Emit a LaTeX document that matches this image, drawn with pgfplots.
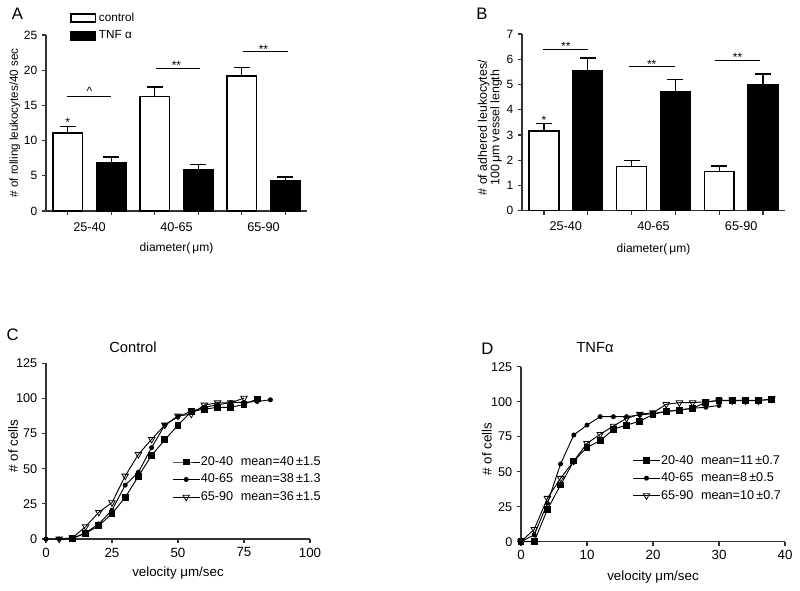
\documentclass[border=0pt]{standalone}
\usepackage{fontspec}
\setmainfont{Liberation Sans}
\usepackage{pgfplots}
\pgfplotsset{compat=1.18}
\newcommand{\fs}[1]{\fontsize{#1}{#1}\selectfont}
\pgfplotsset{
  panel/.style={
    scale only axis, anchor=south west, clip=false,
    axis lines=left,
    axis line style={-, line width=0.9pt, black!80},
    tick style={line width=0.9pt, black!80},
    tick align=outside, major tick length=3pt,
    /pgf/number format/assume math mode=true,
    yticklabel style={font=\fs{9.5}},
    xticklabel style={font=\fs{9.5}},
    label style={font=\fs{9.5}},
  },
  barpanel/.style={
    panel,
    xmin=-0.5, xmax=2.5, ymin=0,
    xtick={-0.25,0.25,0.75,1.25,1.75,2.25},
    xticklabels={,,,,,},
    extra x ticks={0,1,2},
    extra x tick labels={25-40,40-65,65-90},
    extra x tick style={major tick length=0pt, xticklabel style={yshift=-5pt, font=\fs{9.5}}},
    yticklabel style={font=\fs{9}},
    xlabel={diameter(\,μm)},
    xlabel style={at={(axis description cs:0.5,-0.215)}, anchor=center, font=\fs{9}},
  },
  ctrl/.style={ybar, bar width=0.34, bar shift=0pt, fill=white, draw=black, line width=1.1pt,
    error bars/.cd, y dir=plus, y explicit,
    error bar style={line width=1.1pt, black},
    error mark options={line width=1.1pt, mark size=6pt, rotate=90, black}},
  tnf/.style={ybar, bar width=0.34, bar shift=0pt, fill=black, draw=black, line width=1.1pt,
    error bars/.cd, y dir=plus, y explicit,
    error bar style={line width=1.1pt, black},
    error mark options={line width=1.1pt, mark size=6pt, rotate=90, black}},
  curvepanel/.style={
    panel, ymin=0, ymax=125, ytick={0,25,...,125},
    ylabel={\# of cells},
    xlabel={velocity μm/sec},
    xticklabel style={font=\fs{10}},
    xlabel style={font=\fs{10}},
    ylabel style={font=\fs{10}},
    legend style={draw=none, fill=none, font=\fs{9.5}, row sep=3.8pt, inner sep=0pt, nodes={inner sep=0.6pt}, anchor=north west},
    legend cell align=left,
    legend image code/.code={\draw[mark repeat=2, mark phase=2, #1] plot coordinates {(0pt,0pt) (10pt,0pt) (20pt,0pt)};},
  },
  sq/.style={black, line width=0.7pt, mark=square*, mark size=2.2pt, mark options={solid}},
  dt/.style={black, line width=0.7pt, mark=*, mark size=1.5pt, mark options={solid}},
  tr/.style={black, line width=0.7pt, mark=triangle, mark size=2.8pt, mark options={solid, rotate=180, fill=white, line width=0.6pt}},
}
\newcommand{\gap}{\hspace{0.6em}}
\begin{document}
\begin{tikzpicture}
\path[use as bounding box] (0pt,0pt) rectangle (600pt,443.25pt);

% ---------------- Panel A ----------------
\begin{axis}[barpanel, at={(34.5pt,285pt)}, width=195.75pt, height=132pt,
  ymax=25, ytick={0,5,...,25},
  ylabel={\# of rolling leukocytes/40 sec},
  ylabel style={at={(axis description cs:-0.119,0.5)}, anchor=center, font=\fs{8.7}},
  legend style={draw=none, fill=none, font=\fs{8.8}, row sep=1.8pt, inner sep=0pt, nodes={inner sep=1.9pt},
    at={(axis description cs:0.092,1.142)}, anchor=north west},
  legend cell align=left,
  legend image code/.code={\draw[line width=1.1pt, #1] (0pt,-3pt) rectangle (18.5pt,3pt);},
]
% control bars (category centre - 0.25)
\addplot[ctrl] coordinates {(-0.25,11.1) +- (0,0.9) (0.75,16.3) +- (0,1.3) (1.75,19.2) +- (0,1.2)};
\addlegendentry{control}
% TNF bars (category centre + 0.25)
\addplot[tnf] coordinates {(0.25,6.8) +- (0,0.9) (1.25,5.9) +- (0,0.7) (2.25,4.3) +- (0,0.5)};
\addlegendentry{TNF α}
\draw[line width=0.8pt] (axis cs:-0.26,16.2) -- (axis cs:0.25,16.2);
\node[anchor=base, font=\fs{9}, inner sep=0pt] at (axis cs:0,16.4) {\textasciicircum};
\draw[line width=0.8pt] (axis cs:0.76,20.3) -- (axis cs:1.27,20.3);
\node[anchor=base, font=\fs{9}, inner sep=0pt] at (axis cs:1,20.1) {**};
\draw[line width=0.8pt] (axis cs:1.76,22.6) -- (axis cs:2.28,22.6);
\node[anchor=base, font=\fs{9}, inner sep=0pt] at (axis cs:2,22.4) {**};
\node[anchor=base, font=\fs{9}, inner sep=0pt] at (axis cs:-0.25,12.05) {*};
\end{axis}

% ---------------- Panel B ----------------
\begin{axis}[barpanel, at={(391.5pt,285.2pt)}, width=197.25pt, height=132.5pt,
  ymax=7, ytick={0,1,...,7},
  ylabel={\# of adhered leukocytes/\\100\,μm vessel length},
  ylabel style={at={(axis description cs:-0.127,0.47)}, anchor=center, align=center, font=\fs{9.3}, text depth=0pt},
  xlabel style={at={(axis description cs:0.5,-0.217)}},
]
\addplot[ctrl] coordinates {(-0.25,3.15) +- (0,0.3) (0.75,1.75) +- (0,0.25) (1.75,1.55) +- (0,0.23)};
\addplot[tnf] coordinates {(0.25,5.55) +- (0,0.5) (1.25,4.7) +- (0,0.5) (2.25,5.0) +- (0,0.42)};
\draw[line width=0.8pt] (axis cs:-0.26,6.39) -- (axis cs:0.25,6.39);
\node[anchor=base, font=\fs{9}, inner sep=0pt] at (axis cs:0,6.35) {**};
\draw[line width=0.8pt] (axis cs:0.72,5.73) -- (axis cs:1.24,5.73);
\node[anchor=base, font=\fs{9}, inner sep=0pt] at (axis cs:0.98,5.65) {**};
\draw[line width=0.8pt] (axis cs:1.7,5.94) -- (axis cs:2.22,5.94);
\node[anchor=base, font=\fs{9}, inner sep=0pt] at (axis cs:1.96,5.9) {**};
\node[anchor=base, font=\fs{9}, inner sep=0pt] at (axis cs:-0.25,3.4) {*};
\end{axis}

% ---------------- Panel C ----------------
\begin{axis}[curvepanel, at={(34.5pt,39pt)}, width=198pt, height=131.8pt,
  xmin=0, xmax=100, xtick={0,25,...,100},
  xlabel style={at={(axis description cs:0.5,-0.194)}, anchor=center},
  ylabel style={at={(axis description cs:-0.125,0.53)}, anchor=center},
  legend style={at={(axis description cs:0.478,0.475)}},
]
\addplot[sq] coordinates {(10,0.5)(15,4)(20,9.5)(25,18)(30,29.6)(35,44.6)(40,59.5)(45,70.5)(50,81)(55,90.6)(60,92.4)(65,93.6)(70,93.6)(75,95.8)(80,99.6)};
\addlegendentry{20-40\gap mean=40\,±1.5}
\addplot[dt] coordinates {(0,0)(5,0)(10,0.3)(15,4.5)(20,10.7)(25,20.5)(30,38.3)(35,47.5)(40,65)(45,81)(50,87)(55,90.8)(60,93.6)(65,95.5)(70,97)(75,97.2)(80,97.8)(85,99)};
\addlegendentry{40-65\gap mean=38\,±1.3}
\addplot[tr] coordinates {(5,0)(10,0.8)(15,8.8)(20,19)(25,25.9)(30,44.8)(35,60.2)(40,70.9)(45,81.1)(50,87.5)(55,88.8)(60,95.3)(65,96.9)(70,96.9)(75,100.2)};
\addlegendentry{65-90\gap mean=36\,±1.5}
\end{axis}

% ---------------- Panel D ----------------
\begin{axis}[curvepanel, at={(390.75pt,37pt)}, width=198pt, height=131.25pt,
  xmin=0, xmax=40, xtick={0,10,...,40},
  xlabel style={at={(axis description cs:0.5,-0.2)}, anchor=center},
  ylabel style={at={(axis description cs:-0.129,0.53)}, anchor=center},
  legend style={at={(axis description cs:0.422,0.5)}},
]
\addplot[sq] coordinates {(0,0)(2,0)(4,23)(6,40.5)(8,57.6)(10,67.4)(12,72.1)(14,80.2)(16,83.3)(18,86)(20,91)(22,93)(24,94)(26,95.3)(28,99.5)(30,101)(32,101)(34,101)(36,101)(38,101.5)};
\addlegendentry{20-40\gap mean=11\,±0.7}
\addplot[dt] coordinates {(0,0)(2,4.8)(4,27.4)(6,55.5)(8,76.2)(10,83.3)(12,89.3)(14,89.3)(16,89.3)(18,90.5)(20,91.5)(22,93)(24,94)(26,95.3)(28,96)(30,97.3)};
\addlegendentry{40-65\gap mean=8\,±0.5}
\addplot[tr] coordinates {(0,0)(2,8.8)(4,31)(6,45.3)(8,57.6)(10,70.2)(12,76.7)(14,82.6)(16,88.1)(18,91)(20,92.1)(22,98.1)(24,99.3)(26,99.3)(28,100)(30,100.7)(32,100.7)(34,100.7)(36,100.7)(38,101.9)};
\addlegendentry{65-90\gap mean=10\,±0.7}
\end{axis}

% ---------------- panel letters and titles ----------------
\node[font=\fs{12.5}] at (13.1pt,432.75pt) {A};
\node[font=\fs{12.5}] at (361.5pt,432.75pt) {B};
\node[font=\fs{12.5}] at (9.4pt,192pt) {C};
\node[font=\fs{12.5}] at (365.6pt,181.5pt) {D};
\node[font=\fs{11}] at (99.75pt,183pt) {Control};
\node[font=\fs{11}] at (446.25pt,182.25pt) {TNFα};
\end{tikzpicture}
\end{document}
